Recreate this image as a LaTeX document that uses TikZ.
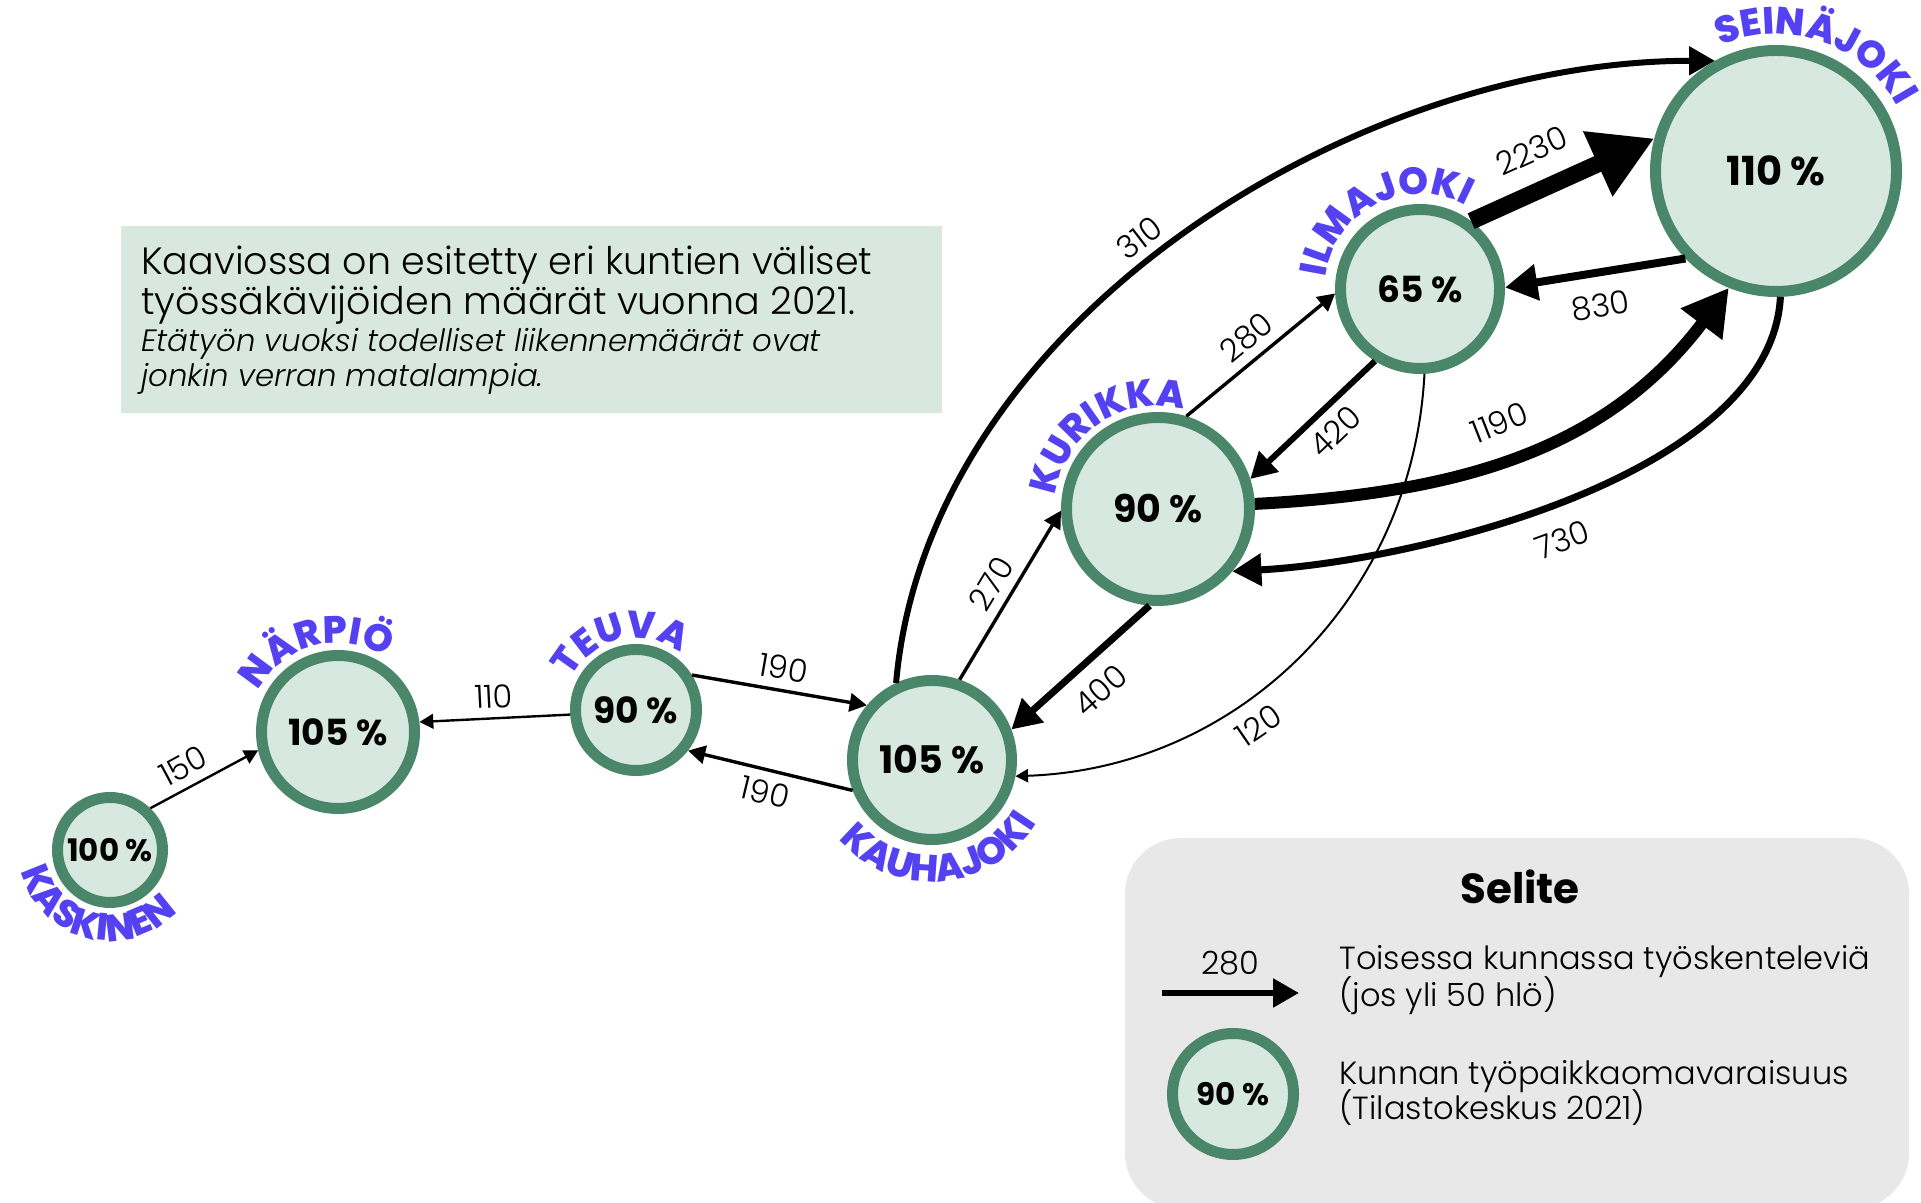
\documentclass[tikz,border=0pt]{standalone}
\usepackage{fontspec}
\setmainfont{Poppins}
\IfFontExistsTF{Poppins Light}{\newfontfamily\lightfont{Poppins Light}}{\newfontfamily\lightfont{Poppins}}
\IfFontExistsTF{Poppins ExtraBold}{\newfontfamily\heavyfont{Poppins ExtraBold}}{\newfontfamily\heavyfont{Poppins}[UprightFont=*-Bold]}
\usetikzlibrary{arrows.meta,decorations.text}

\definecolor{ringgreen}{RGB}{74,135,106}
\definecolor{ringfill}{RGB}{215,232,224}
\definecolor{infofill}{RGB}{216,232,224}
\definecolor{legendgray}{RGB}{232,232,232}
\definecolor{nameblue}{RGB}{84,66,242}

\begin{document}
\begin{tikzpicture}[x=0.5pt,y=0.5pt,
  town/.style={circle,draw=ringgreen,fill=ringfill,line width=5.5pt,inner sep=0pt,minimum size=#1,font=\bfseries\fontsize{19}{19}\selectfont},
  flow/.style={line width=#1,-{Triangle[length=3pt 3.3,width=3pt 3.6]}},
  num/.style={font=\lightfont\fontsize{16}{16}\selectfont,sloped,inner sep=4.5pt},
  note/.style={anchor=base west,inner sep=0pt,font=\lightfont\fontsize{16}{16}\selectfont},
  townname/.style={decorate,decoration={text along path,text align=center,text={|\fontsize{19}{19}\selectfont\heavyfont\color{nameblue}|#1}}}]
  \useasboundingbox (0,0) rectangle (1921,1203);

  % Info box
  \fill[infofill] (121,790) rectangle (942,977);
  \node[note,font=\lightfont\fontsize{19}{19}\selectfont] (info1) at (141,928) {Kaaviossa on esitetty eri kuntien väliset};
  \node[note,font=\lightfont\fontsize{19}{19}\selectfont] (info2) at (141,888) {työssäkävijöiden määrät vuonna 2021.};
  \node[note,font=\lightfont\itshape\fontsize{15.4}{15.4}\selectfont] (info3) at (141,851) {Etätyön vuoksi todelliset liikennemäärät ovat};
  \node[note,font=\lightfont\itshape\fontsize{15.4}{15.4}\selectfont] (info4) at (141,816) {jonkin verran matalampia.};

  % Legend box
  \fill[legendgray,rounded corners=28pt] (1125,-6) rectangle (1909,365);

  % Municipalities
  \node[town=52.5pt,font=\bfseries\fontsize{15.5}{15.5}\selectfont] (kaskinen) at (110,353) {100 \%};
  \node[town=76.5pt,font=\bfseries\fontsize{18}{18}\selectfont] (narpio) at (338,471) {105 \%};
  \node[town=60.5pt,font=\bfseries\fontsize{18}{18}\selectfont] (teuva) at (636,493) {90 \%};
  \node[town=79.5pt] (kauhajoki) at (932,443) {105 \%};
  \node[town=91.5pt] (kurikka) at (1158,694) {90 \%};
  \node[town=79.5pt,font=\bfseries\fontsize{18}{18}\selectfont] (ilmajoki) at (1420,914) {65 \%};
  \node[town=120.5pt,font=\bfseries\fontsize{20}{20}\selectfont] (seinajoki) at (1776,1032) {110 \%};

  % Names around the rings
  \path[townname=SEINÄJOKI] ([shift={(156:137)}]seinajoki.center) arc[start angle=156,end angle=-14,radius=68.5pt];
  \path[townname=ILMAJOKI] ([shift={(202:95)}]ilmajoki.center) arc[start angle=202,end angle=32,radius=47.5pt];
  \path[townname=KURIKKA] ([shift={(209:103)}]kurikka.center) arc[start angle=209,end angle=39,radius=51.5pt];
  \path[townname=TEUVA] ([shift={(188:72)}]teuva.center) arc[start angle=188,end angle=18,radius=36pt];
  \path[townname=NÄRPIÖ] ([shift={(190:89)}]narpio.center) arc[start angle=190,end angle=20,radius=44.5pt];
  \path[townname=KASKINEN] ([shift={(170.5:91)}]kaskinen.center) arc[start angle=170.5,end angle=340.5,radius=45.5pt];
  \path[townname=KAUHAJOKI] ([shift={(189.5:122)}]kauhajoki.center) arc[start angle=189.5,end angle=359.5,radius=61pt];

  % Commuter flows
  \draw[flow=1.2pt] (kaskinen.46) -- node[num,above,pos=0.4] {150} (narpio.193);
  \draw[flow=1.2pt] (teuva.184) -- node[num,above] {110} (narpio.7);
  \draw[flow=1.7pt] (teuva.32) -- node[num,above] {190} (kauhajoki.140);
  \draw[flow=1.7pt] (kauhajoki.201) -- node[num,below] {190} (teuva.322);
  \draw[flow=1.7pt] (kauhajoki.71) -- node[num,above] {270} (kurikka.181);
  \draw[flow=3pt] (kauhajoki.115) to[out=85,in=180,looseness=0.9] node[num,above,pos=0.47] {310} (seinajoki.119);
  \draw[flow=1.7pt] (kurikka.73) -- node[num,above] {280} (ilmajoki.183);
  \draw[flow=3pt] (ilmajoki.238) -- node[num,below,pos=0.45] {420} (kurikka.18);
  \draw[flow=8.5pt] (ilmajoki.53) -- node[num,above=5pt,pos=0.42] {2230} (seinajoki.165);
  \draw[flow=4pt] (seinajoki.224) -- node[num,below=4pt] {830} (ilmajoki.1);
  \draw[flow=6pt] (kurikka.3) to[out=3,in=233] node[num,above=5pt,pos=0.48] {1190} (seinajoki.248);
  \draw[flow=3.5pt] (seinajoki.272) to[out=-93,in=3,looseness=0.75] node[num,below=6pt,pos=0.53] {730} (kurikka.320);
  \draw[flow=3.5pt] (kurikka.265) -- node[num,below=3pt] {400} (kauhajoki.21);
  \draw[flow=1pt] (ilmajoki.273) to[out=-93,in=2] node[num,below=3pt,pos=0.62] {120} (kauhajoki.349);

  % Legend
  \node[font=\bfseries\fontsize{21}{21}\selectfont] (selite) at (1520,316) {Selite};
  \coordinate (legfrom) at (1162,210);
  \coordinate (legto) at (1299,210);
  \draw[flow=3pt] (legfrom) -- node[num,above=3pt] {280} (legto);
  \node[town=60.5pt,font=\bfseries\fontsize{15.5}{15.5}\selectfont] (legring) at (1233,109) {90 \%};
  \node[note] (legflow1) at (1339,233) {Toisessa kunnassa työskenteleviä};
  \node[note] (legflow2) at (1339,196) {(jos yli 50 hlö)};
  \node[note] (legring1) at (1339,118) {Kunnan työpaikkaomavaraisuus};
  \node[note] (legring2) at (1339,83) {(Tilastokeskus 2021)};
\end{tikzpicture}
\end{document}
